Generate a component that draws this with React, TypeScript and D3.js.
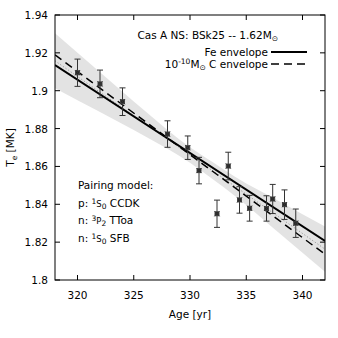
import React from "react";
import * as d3 from "d3";

// observations (age in yr, Te in MK, 1-sigma error)
const ages = [320, 322, 324, 328, 329.8, 330.8, 332.4, 333.4, 334.4, 335.3, 336.8, 337.35, 338.4, 339.4];
const temps = [1.9095, 1.9036, 1.8942, 1.8771, 1.8699, 1.8578, 1.835, 1.8602, 1.8423, 1.8379, 1.8378, 1.8428, 1.8398, 1.83];
const errs = [0.0072, 0.0073, 0.0073, 0.007, 0.0062, 0.007, 0.0072, 0.0073, 0.007, 0.0068, 0.0067, 0.0077, 0.0078, 0.0075];

// model curves, endpoints
const lineAges = [318, 342];
const feEnvelope = [1.9136, 1.8206];
const cEnvelope = [1.9189, 1.8136];
const fitLine = [1.9158, 1.8163];

// confidence band of the fit
const bandAges = [318, 322, 326, 330, 332, 334, 338, 342];
const bandLow = [1.9013, 1.8887, 1.8759, 1.8619, 1.8533, 1.8444, 1.8244, 1.8044];
const bandHigh = [1.9303, 1.9097, 1.8893, 1.8701, 1.8623, 1.8546, 1.8414, 1.8282];

const xTicks = [320, 325, 330, 335, 340];
const yTicks = [1.8, 1.82, 1.84, 1.86, 1.88, 1.9, 1.92, 1.94];

const W = 338;
const H = 338;
const m = { top: 15, right: 13, bottom: 58, left: 55 };
const font = "'DejaVu Sans', sans-serif";

export default function App() {
  const x = d3.scaleLinear().domain([318, 342]).range([m.left, W - m.right]);
  const y = d3.scaleLinear().domain([1.8, 1.94]).range([H - m.bottom, m.top]);
  const x0 = m.left, x1 = W - m.right, y0 = H - m.bottom, y1 = m.top;

  const area = d3
    .area<number>()
    .x((_, i) => x(bandAges[i]))
    .y0((_, i) => y(bandLow[i]))
    .y1((_, i) => y(bandHigh[i]))
    .curve(d3.curveMonotoneX);

  const line = (vals: number[]) =>
    d3.line<number>().x((_, i) => x(lineAges[i])).y((d) => y(d))(vals) ?? "";

  const fs = 10.5;
  const sub = { fontSize: 7.5 };

  return (
    <svg width={W} height={H} style={{ position: "absolute", left: 0, top: 0, background: "#fff" }} fontFamily={font}>
      <defs>
        <clipPath id="plot">
          <rect x={x0} y={y1} width={x1 - x0} height={y0 - y1} />
        </clipPath>
      </defs>
      <g clipPath="url(#plot)">
        <path d={area(bandAges) ?? ""} fill="#e3e3e3" />
        <path d={line(fitLine)} fill="none" stroke="#999" strokeWidth={1} strokeDasharray="1.2,2" />
        <path d={line(cEnvelope)} fill="none" stroke="#000" strokeWidth={1.5} strokeDasharray="8,5" />
        <path d={line(feEnvelope)} fill="none" stroke="#000" strokeWidth={2} />
      </g>

      {/* data points */}
      {ages.map((a, i) => {
        const cx = x(a);
        const cy = y(temps[i]);
        const t = y(temps[i] + errs[i]);
        const b = y(temps[i] - errs[i]);
        return (
          <g key={i} stroke="#333" strokeWidth={1}>
            <line x1={cx} x2={cx} y1={t} y2={b} />
            <line x1={cx - 3} x2={cx + 3} y1={t} y2={t} />
            <line x1={cx - 3} x2={cx + 3} y1={b} y2={b} />
            <rect x={cx - 2} y={cy - 2} width={4} height={4} fill="#222" stroke="#444" />
            <line x1={cx - 2.5} x2={cx + 2.5} y1={cy - 2.5} y2={cy + 2.5} />
            <line x1={cx - 2.5} x2={cx + 2.5} y1={cy + 2.5} y2={cy - 2.5} />
          </g>
        );
      })}

      {/* frame and ticks */}
      <rect x={x0} y={y1} width={x1 - x0} height={y0 - y1} fill="none" stroke="#000" strokeWidth={1} />
      {xTicks.map((t) => (
        <g key={"x" + t}>
          <line x1={x(t)} x2={x(t)} y1={y0} y2={y0 - 5} stroke="#000" />
          <line x1={x(t)} x2={x(t)} y1={y1} y2={y1 + 5} stroke="#000" />
          <text x={x(t)} y={y0 + 19} textAnchor="middle" fontSize={fs} fill="#000">
            {t}
          </text>
        </g>
      ))}
      {yTicks.map((t) => (
        <g key={"y" + t}>
          <line x1={x0} x2={x0 + 5} y1={y(t)} y2={y(t)} stroke="#000" />
          <line x1={x1} x2={x1 - 5} y1={y(t)} y2={y(t)} stroke="#000" />
          <text x={x0 - 7} y={y(t) + 4} textAnchor="end" fontSize={fs} fill="#000">
            {d3.format("")(t)}
          </text>
        </g>
      ))}

      {/* axis labels */}
      <text x={(x0 + x1) / 2} y={y0 + 38} textAnchor="middle" fontSize={fs}>
        Age [yr]
      </text>
      <text transform={`translate(14,${(y0 + y1) / 2}) rotate(-90)`} textAnchor="middle" fontSize={fs}>
        T<tspan dy={3} style={sub}>e</tspan>
        <tspan dy={-3}> [MK]</tspan>
      </text>

      {/* legend */}
      <text x={278} y={39} textAnchor="end" fontSize={fs}>
        Cas A NS: BSk25 -- 1.62M<tspan dy={2} style={sub}>⊙</tspan>
      </text>
      <text x={268} y={56} textAnchor="end" fontSize={fs}>
        Fe envelope
      </text>
      <line x1={271} x2={307} y1={52} y2={52} stroke="#000" strokeWidth={2} />
      <text x={268} y={68} textAnchor="end" fontSize={fs}>
        10<tspan dy={-4} style={sub}>-10</tspan>
        <tspan dy={4}>M</tspan>
        <tspan dy={2} style={sub}>⊙</tspan>
        <tspan dy={-2}> C envelope</tspan>
      </text>
      <line x1={271} x2={307} y1={64} y2={64} stroke="#000" strokeWidth={1.5} strokeDasharray="8,5" />

      {/* pairing model */}
      <g fontSize={fs}>
        <text x={78} y={189}>Pairing model:</text>
        <text x={78} y={207}>
          p: <tspan dy={-3} style={sub}>1</tspan>
          <tspan dy={3} style={{ fontSize: 8.5 }}>S</tspan>
          <tspan dy={2} style={sub}>0</tspan>
          <tspan dy={-2}> CCDK</tspan>
        </text>
        <text x={78} y={224}>
          n: <tspan dy={-3} style={sub}>3</tspan>
          <tspan dy={3} style={{ fontSize: 8.5 }}>P</tspan>
          <tspan dy={2} style={sub}>2</tspan>
          <tspan dy={-2}> TToa</tspan>
        </text>
        <text x={78} y={242}>
          n: <tspan dy={-3} style={sub}>1</tspan>
          <tspan dy={3} style={{ fontSize: 8.5 }}>S</tspan>
          <tspan dy={2} style={sub}>0</tspan>
          <tspan dy={-2}> SFB</tspan>
        </text>
      </g>
    </svg>
  );
}
